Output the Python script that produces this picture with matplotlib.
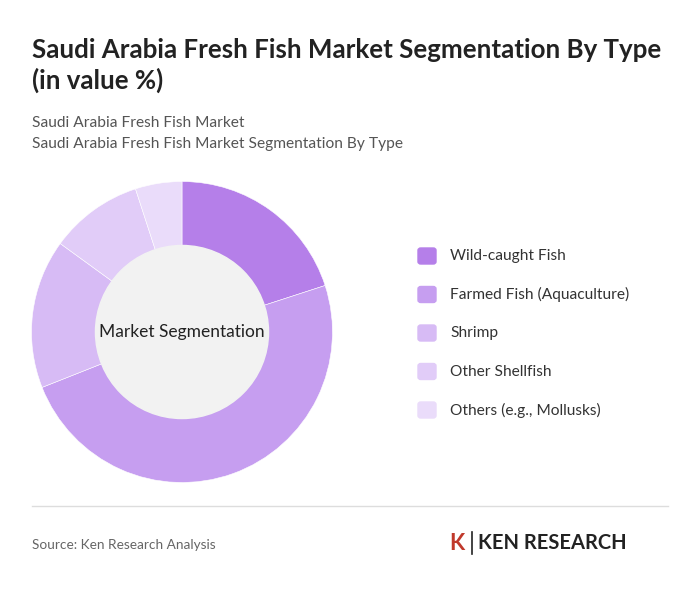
import matplotlib
matplotlib.use("Agg")
import matplotlib.pyplot as plt
from matplotlib.patches import Circle, FancyBboxPatch

labels = ["Wild-caught Fish", "Farmed Fish (Aquaculture)", "Shrimp", "Other Shellfish", "Others (e.g., Mollusks)"]
values = [20, 49, 16, 10, 5]
colors = ["#b57fe9", "#c69ef0", "#d7bbf5", "#e1ccf8", "#eadcfa"]

plt.rcParams['font.family'] = ['Lato', 'DejaVu Sans']
fig = plt.figure(figsize=(7, 5.91), dpi=100)
fig.patch.set_facecolor("white")

fig.text(32/700, 1-50/591, "Saudi Arabia Fresh Fish Market Segmentation By Type", fontsize=18.6, fontweight="bold", color="#222222", va="center")
fig.text(32/700, 1-80/591, "(in value %)", fontsize=18.6, fontweight="bold", color="#222222", va="center")
fig.text(32/700, 1-123/591, "Saudi Arabia Fresh Fish Market", fontsize=11.2, color="#555555", va="center")
fig.text(32/700, 1-144/591, "Saudi Arabia Fresh Fish Market Segmentation By Type", fontsize=11.2, color="#555555", va="center")

ax = fig.add_axes([(182-152)/700, 1-(332+152)/591, 304/700, 304/591])
ax.pie(values, colors=colors, startangle=90, counterclock=False, radius=1.0,
       wedgeprops=dict(width=0.43, edgecolor="white", linewidth=0.4))
ax.add_patch(Circle((0, 0), 0.575, color="#f2f2f2", zorder=3))
ax.text(0, 0, "Market Segmentation", ha="center", va="center", fontsize=12.5, color="#222222", zorder=4)
ax.set_xlim(-1.01, 1.01); ax.set_ylim(-1.01, 1.01); ax.set_aspect("equal"); ax.axis("off")

for i, (lab, c) in enumerate(zip(labels, colors)):
    y = 256 + i*38.5
    fig.patches.append(FancyBboxPatch(((418)/700, 1-(y+8)/591), 18/700, 16/591,
        boxstyle="round,pad=0,rounding_size=0.004", transform=fig.transFigure, color=c))
    fig.text(450/700, 1-y/591, lab, fontsize=11.2, color="#333333", va="center")

fig.add_artist(plt.Line2D([32/700, 668/700], [1-506/591, 1-506/591], color="#dddddd", lw=1))
fig.text(32/700, 1-545/591, "Source: Ken Research Analysis", fontsize=9.8, color="#666666", va="center")
fig.text(478/700, 1-543/591, "KEN RESEARCH", fontsize=14.5, fontweight="bold", color="#222222", va="center")
fig.text(449/700, 1-543/591, "K", fontsize=16, fontweight="bold", color="#c0392b", va="center")
fig.add_artist(plt.Line2D([472/700, 472/700], [1-532/591, 1-554/591], color="#222222", lw=1.2))

fig.savefig("out.png", dpi=100, facecolor="white")
